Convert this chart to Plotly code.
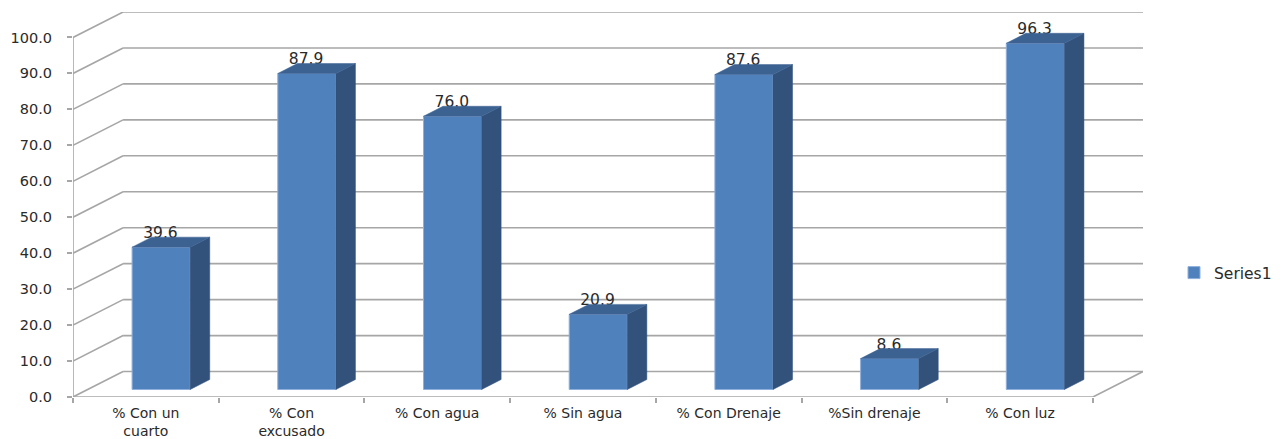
import plotly.graph_objects as go

categories = ["% Con un<br>cuarto", "% Con<br>excusado", "% Con agua", "% Sin agua",
              "% Con Drenaje", "%Sin drenaje", "% Con luz"]
values = [39.6, 87.9, 76.0, 20.9, 87.6, 8.6, 96.3]
y_ticks = [0, 10, 20, 30, 40, 50, 60, 70, 80, 90, 100]
series_name = "Series1"

# pseudo-3D projection, in axis units
PX_X = (1091 - 73) / 7
PX_Y = 3.6
DEPTH_X = 50 / PX_X
DEPTH_Y = 25.5 / PX_Y
BAR_W = 58 / PX_X
BAR_OFFSET = 0.105
BAR_LIFT = 7.5 / PX_Y
SIDE_X = 19.5 / PX_X
SIDE_Y = 10 / PX_Y
LABEL_UP = 3.6

GRID = "#a6a6a6"
FRONT = "#4f81bd"
SIDE = "#32527c"
TOP = "#3c6292"
TEXT = "#2a2a2a"
FONT = "DejaVu Sans"

n = len(categories)
centers = [i + 0.5 + BAR_OFFSET for i in range(n)]
ticks_pos = [i + 0.5 for i in range(n)]

shapes = []
def seg(x0, y0, x1, y1):
    shapes.append(dict(type="line", xref="x", yref="y", x0=x0, y0=y0, x1=x1, y1=y1,
                       layer="below", line=dict(color=GRID, width=1.6)))

for v in y_ticks:
    seg(0, v, DEPTH_X, v + DEPTH_Y)
    seg(DEPTH_X, v + DEPTH_Y, n + DEPTH_X, v + DEPTH_Y)
seg(n, 0, n + DEPTH_X, DEPTH_Y)
seg(0, 0, n, 0)
seg(0, 0, 0, y_ticks[-1])

fig = go.Figure()
fig.add_trace(go.Bar(
    x=centers, y=values, base=[BAR_LIFT] * n, width=BAR_W, name=series_name,
    marker=dict(color=FRONT, line=dict(color="#8fb0dc", width=1)),
    showlegend=True, hoverinfo="skip"))

fig.add_trace(go.Scatter(
    x=[c - 0.005 for c in centers], y=[v + BAR_LIFT + LABEL_UP for v in values],
    text=[f"{v:.1f}" for v in values], mode="text", textposition="middle center",
    textfont=dict(family=FONT, size=15.5, color=TEXT), showlegend=False, hoverinfo="skip"))

side_x, side_y, top_x, top_y = [], [], [], []
for c, v in zip(centers, values):
    l, r = c - BAR_W / 2, c + BAR_W / 2
    b, t = BAR_LIFT, BAR_LIFT + v
    side_x += [r, r + SIDE_X, r + SIDE_X, r, r, None]
    side_y += [b, b + SIDE_Y, t + SIDE_Y, t, b, None]
    top_x += [l, l + SIDE_X, r + SIDE_X, r, l, None]
    top_y += [t, t + SIDE_Y, t + SIDE_Y, t, t, None]

fig.add_trace(go.Scatter(x=side_x, y=side_y, mode="lines", fill="toself", fillcolor=SIDE,
                         line=dict(color=SIDE, width=0.5), showlegend=False, hoverinfo="skip"))
fig.add_trace(go.Scatter(x=top_x, y=top_y, mode="lines", fill="toself", fillcolor=TOP,
                         line=dict(color=TOP, width=0.5), showlegend=False, hoverinfo="skip"))

PLOT_W = 1282 - 73
fig.update_layout(
    width=1282, height=439,
    margin=dict(l=73, r=0, t=12, b=41.5, pad=0),
    paper_bgcolor="white", plot_bgcolor="white",
    shapes=shapes,
    showlegend=True,
    legend=dict(x=(1174 - 73) / PLOT_W, y=0.322, xanchor="left", yanchor="middle",
                font=dict(family=FONT, size=15.5, color=TEXT), bgcolor="rgba(0,0,0,0)"),
    xaxis=dict(domain=[0, (1143 - 73) / PLOT_W], automargin=False,
               range=[0, n + DEPTH_X], showgrid=False, zeroline=False, showline=False,
               tickmode="array", tickvals=ticks_pos, ticktext=categories, ticks="",
               tickangle=0, ticklabelstandoff=6,
               tickfont=dict(family=FONT, size=14, color=TEXT),
               minor=dict(tickmode="array", tickvals=list(range(n + 1)), ticks="outside",
                          ticklen=5, tickcolor=GRID, tickwidth=1.6, showgrid=False)),
    yaxis=dict(automargin=False, range=[0, y_ticks[-1] + DEPTH_Y], showgrid=False,
               zeroline=False, showline=False,
               tickmode="array", tickvals=y_ticks, ticktext=[f"{v:.1f}" for v in y_ticks],
               ticks="outside", ticklen=5, tickcolor=GRID, tickwidth=1.6,
               ticklabelstandoff=12,
               tickfont=dict(family=FONT, size=14.5, color=TEXT)),
)

fig.write_html("out.html", post_script="document.body.style.margin='0';document.body.style.overflow='hidden';",
               config=dict(displayModeBar=False))
